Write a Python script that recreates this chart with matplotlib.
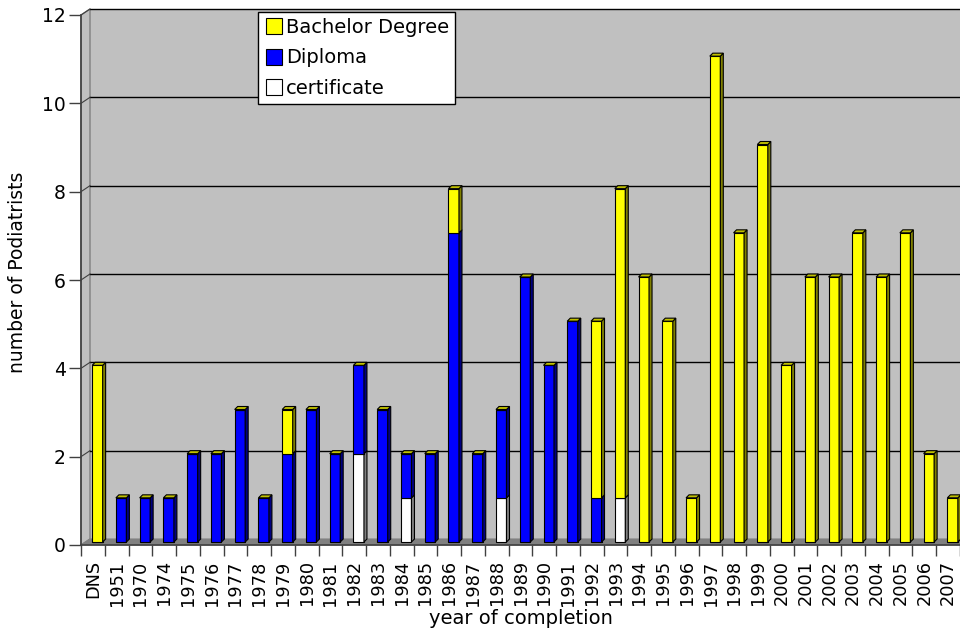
import matplotlib
matplotlib.use("Agg")
import matplotlib.pyplot as plt
from matplotlib.patches import Polygon
from matplotlib.lines import Line2D
import numpy as np

categories = ["DNS", "1951", "1970", "1974", "1975", "1976", "1977", "1978", "1979",
              "1980", "1981", "1982", "1983", "1984", "1985", "1986", "1987", "1988",
              "1989", "1990", "1991", "1992", "1993", "1994", "1995", "1996", "1997",
              "1998", "1999", "2000", "2001", "2002", "2003", "2004", "2005", "2006", "2007"]
certificate = [0, 0, 0, 0, 0, 0, 0, 0, 0, 0, 0, 2, 0, 1, 0, 0, 0, 1, 0, 0, 0, 0, 1,
               0, 0, 0, 0, 0, 0, 0, 0, 0, 0, 0, 0, 0, 0]
diploma = [0, 1, 1, 1, 2, 2, 3, 1, 2, 3, 2, 2, 3, 1, 2, 7, 2, 2, 6, 4, 5, 1, 0,
           0, 0, 0, 0, 0, 0, 0, 0, 0, 0, 0, 0, 0, 0]
bachelor = [4, 0, 0, 0, 0, 0, 0, 0, 1, 0, 0, 0, 0, 0, 0, 1, 0, 0, 0, 0, 0, 4, 7,
            6, 5, 1, 11, 7, 9, 4, 6, 6, 7, 6, 7, 2, 1]
series = [("certificate", certificate, "#FFFFFF", "#808080"),
          ("Diploma", diploma, "#0000FF", "#000080"),
          ("Bachelor Degree", bachelor, "#FFFF00", "#808000")]
top_color = "#C0C000"

W, H = 960, 633
fig = plt.figure(figsize=(W / 100, H / 100), dpi=100)
ax_l, ax_r, ax_b, ax_t = 81, 960, 545, 15
ax = fig.add_axes([ax_l / W, (H - ax_b) / H, (ax_r - ax_l) / W, (ax_b - ax_t) / H])
n = len(categories)
ax.set_xlim(-0.5, n - 0.5)
ax.set_ylim(0, 12)

px_x = n / (ax_r - ax_l)
px_y = 12 / (ax_b - ax_t)
dx, dy = 9 * px_x, 6 * px_y
x0, x1 = -0.5, n - 0.5
ymax = 12

# walls and floor
ax.add_patch(Polygon([(x0 + dx, dy), (x1 + dx, dy), (x1 + dx, ymax + dy), (x0 + dx, ymax + dy)],
                     closed=True, facecolor="#C0C0C0", edgecolor="none", clip_on=False, zorder=0))
ax.add_patch(Polygon([(x0, 0), (x0 + dx, dy), (x0 + dx, ymax + dy), (x0, ymax)],
                     closed=True, facecolor="#C0C0C0", edgecolor="#808080", lw=1, clip_on=False, zorder=0.5))
ax.add_patch(Polygon([(x0, 0), (x1, 0), (x1 + dx, dy), (x0 + dx, dy)],
                     closed=True, facecolor="#808080", edgecolor="#808080", lw=0.8, clip_on=False, zorder=0.5))
for v in range(2, 13, 2):
    ax.plot([x0 + dx, x1 + dx], [v + dy, v + dy], color="black", lw=1, clip_on=False, zorder=0.6)
    ax.plot([x0, x0 + dx], [v, v + dy], color="#404040", lw=0.8, clip_on=False, zorder=0.6)

# 3D bars
bw = 10.5 * px_x
sx, sy = 3 * px_x, 3 * px_y
ox, oy = 4.5 * px_x, 3 * px_y
xs = np.arange(n)
bottoms = np.zeros(n)
for name, vals, fc, sc in series:
    vals = np.array(vals, dtype=float)
    ax.bar(xs + ox, vals, width=bw, bottom=bottoms + oy, color=fc, edgecolor="black",
           linewidth=0.8, zorder=2, label=name)
    for i in range(n):
        if vals[i] <= 0:
            continue
        b = bottoms[i] + oy
        t = b + vals[i]
        xr = xs[i] + ox + bw / 2
        ax.add_patch(Polygon([(xr, b), (xr + sx, b + sy), (xr + sx, t + sy), (xr, t)],
                             closed=True, facecolor=sc, edgecolor="black", lw=0.8, zorder=2))
    bottoms = bottoms + vals
for i in range(n):
    t = bottoms[i] + oy
    xl = xs[i] + ox - bw / 2
    xr = xs[i] + ox + bw / 2
    ax.add_patch(Polygon([(xl, t), (xl + sx, t + sy), (xr + sx, t + sy), (xr, t)],
                         closed=True, facecolor=top_color, edgecolor="black", lw=0.8, zorder=2.1))

# axes styling
for s in ["top", "right"]:
    ax.spines[s].set_visible(False)
for s in ["left", "bottom"]:
    ax.spines[s].set_color("#404040")
    ax.spines[s].set_linewidth(1.2)
    ax.spines[s].set_zorder(3)
ax.patch.set_visible(False)
ax.set_yticks(range(0, 13, 2))
ax.set_xticks(xs)
ax.set_xticklabels(categories, rotation=90)
ax.set_xticks(np.arange(n + 1) - 0.5, minor=True)
ax.tick_params(axis="x", which="major", length=0, pad=11, labelsize=12.8, colors="black")
ax.tick_params(axis="x", which="minor", length=8, width=1, color="#404040")
ax.tick_params(axis="y", length=9, width=1, color="#404040", labelsize=13.5, pad=2)
ax.set_xlabel("year of completion", fontsize=14)
ax.set_ylabel("number of Podiatrists", fontsize=13.5)
ax.xaxis.set_label_coords(0.5, -(609 - ax_b) / (ax_b - ax_t))
ax.yaxis.set_label_coords((27 - ax_l) / (ax_r - ax_l), (ax_b - 272) / (ax_b - ax_t))

handles = [Line2D([], [], marker="s", linestyle="none", markersize=11, markerfacecolor=c,
                  markeredgecolor="black", markeredgewidth=0.8)
           for c in ["#FFFF00", "#0000FF", "#FFFFFF"]]
leg = ax.legend(handles, ["Bachelor Degree", "Diploma", "certificate"], loc="upper left",
                bbox_to_anchor=((258 - ax_l) / (ax_r - ax_l), 1 + 3 / (ax_b - ax_t)),
                fontsize=14, frameon=True, fancybox=False, framealpha=1, edgecolor="black",
                borderpad=0.3, handletextpad=0.15, handlelength=1.0, labelspacing=0.6,
                borderaxespad=0)
leg.get_frame().set_linewidth(1)
leg.set_zorder(5)

fig.savefig("out.png", dpi=100)
